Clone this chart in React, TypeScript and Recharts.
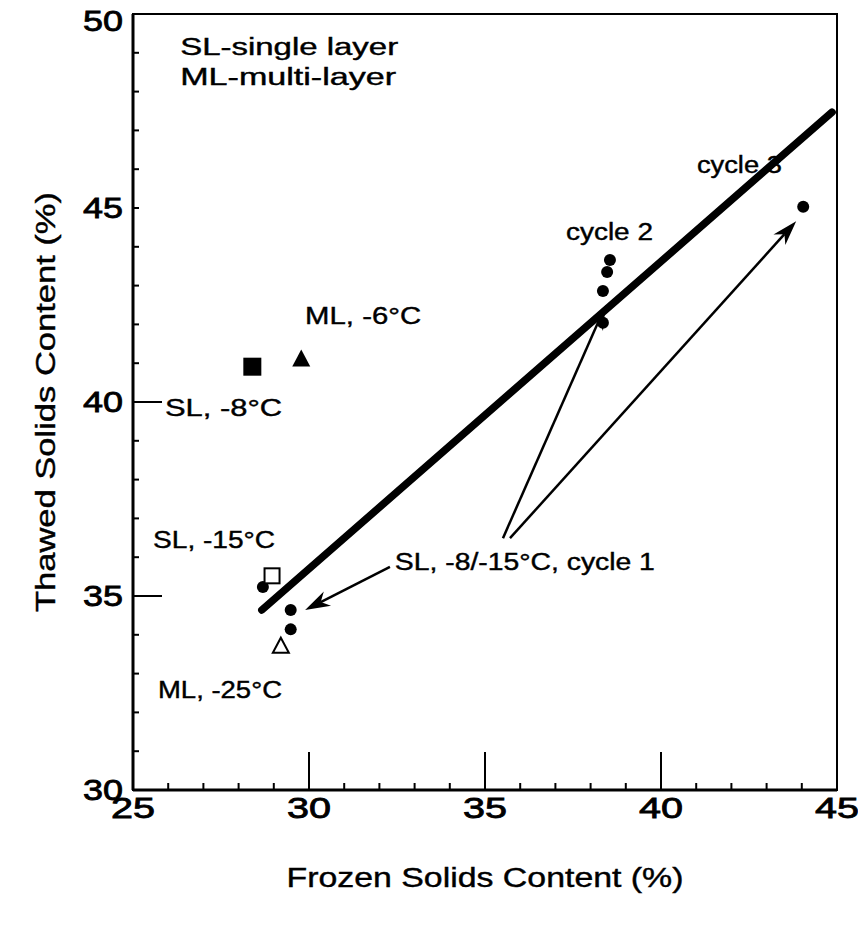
import React from 'react';
import {
  ScatterChart,
  Scatter,
  XAxis,
  YAxis,
  ReferenceLine,
  ReferenceDot,
  ReferenceArea,
  Label,
} from 'recharts';

// ---------- data ----------
const xTicks = [25, 26, 27, 28, 29, 30, 31, 32, 33, 34, 35, 36, 37, 38, 39, 40, 41, 42, 43, 44, 45];
const yTicks = [30, 31, 32, 33, 34, 35, 36, 37, 38, 39, 40, 41, 42, 43, 44, 45, 46, 47, 48, 49, 50];
const xLabelTicks = [25, 30, 35, 40, 45];
const yLabelTicks = [30, 35, 40, 45, 50];
const xLongTicks = [30, 35, 40];
const yLongTicks = [35, 40];

// SL, -8/-15°C cycles 1-3 (filled circles)
const cyclePoints = [
  { x: 28.69, y: 35.23 },
  { x: 29.48, y: 34.64 },
  { x: 29.48, y: 34.14 },
  { x: 38.35, y: 42.04 },
  { x: 38.35, y: 42.86 },
  { x: 38.47, y: 43.35 },
  { x: 38.55, y: 43.66 },
  { x: 44.04, y: 45.03 },
];
const sl8Points = [{ x: 28.39, y: 40.91 }];
const ml6Points = [{ x: 29.78, y: 41.12 }];
const sl15Points = [{ x: 28.95, y: 35.52 }];
const ml25Points = [{ x: 29.2, y: 33.72 }];

const trendLine = [
  { x: 28.66, y: 34.64 },
  { x: 44.86, y: 47.47 },
];

const arrows = [
  [{ x: 32.3, y: 35.75 }, { x: 29.89, y: 34.64 }],
  [{ x: 35.51, y: 36.49 }, { x: 38.43, y: 42.5 }],
  [{ x: 35.71, y: 36.49 }, { x: 43.84, y: 44.66 }],
];

const annotations = [
  { text: 'SL-single layer', x: 26.34, y: 49.15 },
  { text: 'ML-multi-layer', x: 26.34, y: 48.38 },
  { text: 'ML, -6°C', x: 29.89, y: 42.22 },
  { text: 'SL, -8°C', x: 25.91, y: 39.85 },
  { text: 'cycle 2', x: 37.3, y: 44.38 },
  { text: 'cycle 3', x: 41.02, y: 46.11 },
  { text: 'SL, -15°C', x: 25.57, y: 36.44 },
  { text: 'SL, -8/-15°C, cycle 1', x: 32.44, y: 35.88 },
  { text: 'ML, -25°C', x: 25.71, y: 32.58 },
];

const xTitle = 'Frozen Solids Content (%)';
const yTitle = 'Thawed Solids Content (%)';

// ---------- styles ----------
const FONT = '"Liberation Sans", Arial, Helvetica, sans-serif';
const annotationWidths: Record<string, number> = {
  'SL-single layer': 218,
  'ML-multi-layer': 216,
  'ML, -6°C': 116,
  'SL, -8°C': 117,
  'cycle 2': 87,
  'cycle 3': 85,
  'SL, -15°C': 122,
  'SL, -8/-15°C, cycle 1': 260,
  'ML, -25°C': 124,
};

const XTick = (props: any) => {
  const { x, y, payload } = props;
  const v = payload.value;
  const len = xLongTicks.includes(v) ? 38 : 7;
  return (
    <g>
      <line x1={x} x2={x} y1={y} y2={y - len} stroke="#000" strokeWidth={2} />
      {xLabelTicks.includes(v) && (
        <text
          x={x}
          y={y + 28}
          textAnchor="middle"
          fontFamily={FONT}
          fontSize={29}
          textLength={44}
          lengthAdjust="spacingAndGlyphs"
          fill="#000"
          stroke="#000"
          strokeWidth={0.8}
        >
          {v}
        </text>
      )}
    </g>
  );
};

const YTick = (props: any) => {
  const { x, y, payload } = props;
  const v = payload.value;
  const len = yLongTicks.includes(v) ? 29 : 6;
  const dy = v === 50 ? 17 : 10;
  return (
    <g>
      <line x1={x} x2={x + len} y1={y} y2={y} stroke="#000" strokeWidth={2} />
      {yLabelTicks.includes(v) && (
        <text
          x={x - 50}
          y={y + dy}
          textAnchor="start"
          fontFamily={FONT}
          fontSize={29}
          textLength={40}
          lengthAdjust="spacingAndGlyphs"
          fill="#000"
          stroke="#000"
          strokeWidth={0.8}
        >
          {v}
        </text>
      )}
    </g>
  );
};

const Arrow = (p: any) => {
  const { x1, y1, x2, y2 } = p;
  const dx = x2 - x1;
  const dy = y2 - y1;
  const d = Math.sqrt(dx * dx + dy * dy) || 1;
  const ux = dx / d;
  const uy = dy / d;
  const L = 25;
  const W = 8;
  const bx = x2 - ux * L;
  const by = y2 - uy * L;
  const nx = x2 - ux * L * 0.7;
  const ny = y2 - uy * L * 0.7;
  const pts = [
    [x2, y2],
    [bx - uy * W, by + ux * W],
    [nx, ny],
    [bx + uy * W, by - ux * W],
  ]
    .map((q) => q.join(','))
    .join(' ');
  return (
    <g>
      <line x1={x1} y1={y1} x2={nx} y2={ny} stroke="#000" strokeWidth={2.5} />
      <polygon points={pts} fill="#000" />
    </g>
  );
};

const circleShape = (p: any) => <circle cx={p.cx} cy={p.cy} r={6} fill="#000" />;
const filledSquare = (p: any) => (
  <rect x={p.cx - 9} y={p.cy - 9} width={18} height={18} fill="#000" />
);
const openSquare = (p: any) => (
  <rect x={p.cx - 7.5} y={p.cy - 7.5} width={15} height={15} fill="#fff" stroke="#000" strokeWidth={2} />
);
const filledTriangle = (p: any) => (
  <polygon
    points={`${p.cx},${p.cy - 9} ${p.cx + 9},${p.cy + 8} ${p.cx - 9},${p.cy + 8}`}
    fill="#000"
  />
);
const openTriangle = (p: any) => (
  <polygon
    points={`${p.cx},${p.cy - 8} ${p.cx + 8},${p.cy + 7} ${p.cx - 8},${p.cy + 7}`}
    fill="#fff"
    stroke="#000"
    strokeWidth={2}
  />
);

export default function App() {
  return (
    <div style={{ width: 850, height: 918, marginTop: -8 }}>
      <ScatterChart
        width={850}
        height={918}
        margin={{ top: 14, right: 21, bottom: 0, left: 0 }}
      >
        <XAxis
          type="number"
          dataKey="x"
          domain={[25, 45]}
          ticks={xTicks}
          interval={0}
          allowDataOverflow
          height={128}
          tickSize={0}
          tickMargin={0}
          tickLine={false}
          axisLine={{ stroke: '#000', strokeWidth: 3 }}
          tick={XTick}
        >
          <Label
            content={(lp: any) => {
              const vb = lp.viewBox;
              return (
                <text
                  x={vb.x + vb.width / 2}
                  y={vb.y + 97}
                  textAnchor="middle"
                  fontFamily={FONT}
                  fontSize={27}
                  textLength={397}
                  lengthAdjust="spacingAndGlyphs"
                  fill="#000"
                  stroke="#000"
                  strokeWidth={0.4}
                >
                  {xTitle}
                </text>
              );
            }}
          />
        </XAxis>
        <YAxis
          type="number"
          dataKey="y"
          domain={[30, 50]}
          ticks={yTicks}
          interval={0}
          allowDataOverflow
          width={125}
          tickSize={0}
          tickMargin={0}
          tickLine={false}
          axisLine={{ stroke: '#000', strokeWidth: 3 }}
          tick={YTick}
        >
          <Label
            content={(lp: any) => {
              const vb = lp.viewBox;
              const cx = vb.x + 37;
              const cy = vb.y + vb.height / 2;
              return (
                <text
                  x={cx}
                  y={cy}
                  transform={`rotate(-90 ${cx} ${cy})`}
                  dy={10}
                  textAnchor="middle"
                  fontFamily={FONT}
                  fontSize={27}
                  textLength={420}
                  lengthAdjust="spacingAndGlyphs"
                  fill="#000"
                  stroke="#000"
                  strokeWidth={0.4}
                >
                  {yTitle}
                </text>
              );
            }}
          />
        </YAxis>

        <ReferenceArea
          x1={25}
          x2={45}
          y1={30}
          y2={50}
          fill="none"
          fillOpacity={0}
          stroke="#000"
          strokeWidth={2}
          ifOverflow="visible"
        />

        <ReferenceLine
          segment={trendLine}
          stroke="#000"
          strokeWidth={7.5}
          strokeLinecap="round"
          ifOverflow="visible"
        />

        {arrows.map((seg, i) => (
          <ReferenceLine key={`a${i}`} segment={seg} ifOverflow="visible" shape={Arrow} />
        ))}

        <Scatter data={cyclePoints} shape={circleShape} isAnimationActive={false} />
        <Scatter data={sl8Points} shape={filledSquare} isAnimationActive={false} />
        <Scatter data={ml6Points} shape={filledTriangle} isAnimationActive={false} />
        <Scatter data={sl15Points} shape={openSquare} isAnimationActive={false} />
        <Scatter data={ml25Points} shape={openTriangle} isAnimationActive={false} />

        {annotations.map((a) => (
          <ReferenceDot
            key={a.text}
            x={a.x}
            y={a.y}
            r={0}
            ifOverflow="visible"
            shape={(p: any) => (
              <text
                x={p.cx}
                y={p.cy + 8}
                textAnchor="start"
                fontFamily={FONT}
                fontSize={23}
                textLength={annotationWidths[a.text]}
                lengthAdjust="spacingAndGlyphs"
                fill="#000"
                stroke="#000"
                strokeWidth={0.4}
              >
                {a.text}
              </text>
            )}
          />
        ))}
      </ScatterChart>
    </div>
  );
}
